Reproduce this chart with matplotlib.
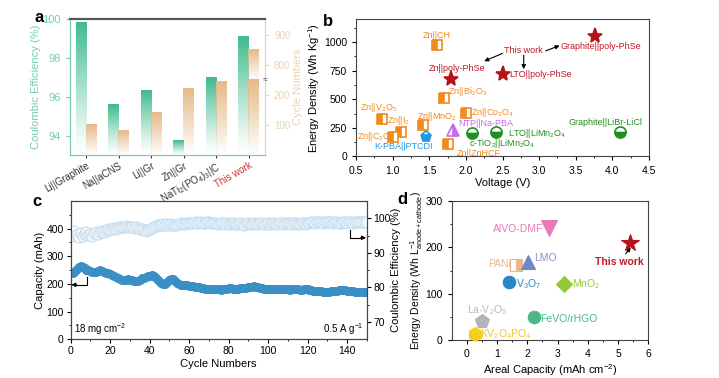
import numpy as np
import matplotlib
matplotlib.use("Agg")
import matplotlib.pyplot as plt
from matplotlib.colors import to_rgb
import matplotlib.transforms as mtransforms

plt.rcParams['font.family'] = ['Liberation Sans', 'DejaVu Sans']
plt.rcParams['mathtext.fontset'] = 'custom'
plt.rcParams['mathtext.rm'] = 'Liberation Sans'
plt.rcParams['mathtext.it'] = 'Liberation Sans:italic'
plt.rcParams['mathtext.bf'] = 'Liberation Sans:bold'
plt.rcParams['font.size'] = 7

# ---------------- data: panel a ----------------
a_categories = ["Li||Graphite", "Na||aCNS", "Li||Gr", "Zn||Gr",
                "NaTi$_2$(PO$_4$)$_3$||C", "This work"]
a_ce = [99.8, 95.6, 96.3, 93.75, 97.0, 99.1]
a_cycles = [100, 83, 143, 223, 245, 850]

# ---------------- data: panel b ----------------
b_names = ["Zn||CH", "Zn||poly-PhSe", "Zn||Bi$_2$O$_3$", "Zn||V$_2$O$_5$", "Zn||I$_2$",
           "Zn||MnO$_2$", "Zn||C$_2$O$_4$", "Zn||Co$_3$O$_4$", "K-PBA||PTCDI",
           "NTP||Na-PBA", "Zn||ZnHCF", "c-TiO$_2$||LiMn$_2$O$_4$", "LTO||LiMn$_2$O$_4$",
           "LTO||poly-PhSe", "Graphite||poly-PhSe", "Graphite||LiBr-LiCl"]
b_voltage = [1.61, 1.80, 1.70, 0.85, 1.11, 1.41, 1.00, 2.00, 1.45, 1.82, 1.76,
             2.09, 2.41, 2.50, 3.76, 4.11]
b_energy = [977, 675, 512, 329, 216, 272, 173, 376, 173, 231, 109, 207, 216,
            718, 1050, 211]

# ---------------- data: panel c ----------------
c_cycles = list(range(1, 151))
c_capacity = [238, 248, 255, 262, 265, 262, 256, 252, 250, 246,
              244, 243, 245, 247, 249, 248, 245, 241, 238, 235,
              231, 228, 225, 221, 218, 216, 214, 215, 217, 216,
              215, 212, 210, 212, 216, 220, 223, 226, 228, 230,
              231, 228, 222, 216, 208, 202, 199, 201, 206, 213,
              218, 219, 212, 204, 199, 197, 196, 197, 195, 193,
              192, 191, 190, 189, 188, 186, 184, 183, 182, 182,
              181, 182, 183, 182, 181, 180, 181, 182, 183, 184,
              184, 183, 182, 182, 183, 184, 185, 186, 187, 188,
              189, 190, 191, 190, 188, 186, 184, 183, 182, 182,
              181, 182, 183, 182, 181, 181, 182, 183, 182, 181,
              180, 181, 182, 182, 181, 180, 180, 181, 182, 181,
              179, 177, 175, 174, 174, 173, 173, 172, 172, 171,
              172, 173, 174, 175, 176, 177, 178, 178, 177, 176,
              175, 174, 173, 172, 171, 171, 170, 170, 170, 171]
c_ce = [96.2, 94.8, 95.3, 94.5, 95.8, 94.9, 95.6, 96.0, 95.2, 95.5,
        95.0, 95.8, 96.1, 95.4, 95.9, 96.3, 96.0, 96.5, 96.8, 96.6,
        97.0, 97.2, 96.9, 97.3, 97.5, 97.6, 97.4, 97.7, 97.5, 97.6,
        97.4, 97.2, 97.5, 97.3, 97.0, 96.8, 96.5, 96.4, 96.6, 96.9,
        97.2, 97.6, 97.9, 98.1, 98.2, 98.0, 98.3, 98.2, 98.4, 98.1,
        98.3, 98.2, 98.0, 98.2, 98.4, 98.5, 98.3, 98.4, 98.6, 98.5,
        98.7, 98.6, 98.8, 98.7, 98.9, 98.8, 98.6, 98.7, 98.9, 98.8,
        98.7, 98.5, 98.6, 98.4, 98.3, 98.5, 98.6, 98.4, 98.5, 98.3,
        98.4, 98.6, 98.5, 98.3, 98.4, 98.5, 98.3, 98.2, 98.4, 98.5,
        98.3, 98.4, 98.5, 98.3, 98.4, 98.6, 98.5, 98.4, 98.3, 98.5,
        98.4, 98.5, 98.6, 98.4, 98.3, 98.5, 98.6, 98.4, 98.5, 98.6,
        98.5, 98.4, 98.6, 98.5, 98.3, 98.4, 98.5, 98.6, 98.4, 98.5,
        98.7, 98.8, 98.9, 98.7, 98.8, 98.9, 98.8, 98.7, 98.9, 99.0,
        98.8, 98.9, 98.7, 98.8, 98.9, 98.7, 98.6, 98.8, 98.9, 98.7,
        98.8, 98.9, 98.7, 98.8, 98.9, 99.0, 98.8, 98.9, 99.0, 98.9]

# ---------------- data: panel d ----------------
d_names = ["AlVO-DMF", "This work", "PANi", "LMO", "V$_3$O$_7$", "MnO$_2$",
           "La-V$_2$O$_5$", "FeVO/rHGO", "KV$_2$O$_4$PO$_4$"]
d_capacity = [2.72, 5.39, 1.61, 2.03, 1.40, 3.22, 0.50, 2.22, 0.26]
d_energy = [242, 209, 162, 168, 126, 120, 41, 50, 12]

W, H = 719, 378
fig = plt.figure(figsize=(W / 100, H / 100), dpi=100)


def px_axes(l, t, r, b):
    return fig.add_axes([l / W, 1 - b / H, (r - l) / W, (b - t) / H])


def grad_bar(ax, x0, x1, y0, y1, color, power=0.9):
    n = 200
    rgb = to_rgb(color)
    img = np.ones((n, 1, 4))
    img[:, 0, 0:3] = rgb
    t = np.linspace(0, 1, n)
    img[:, 0, 3] = np.clip(t, 0, 1) ** power
    ax.imshow(img, extent=[x0, x1, y0, y1], origin='lower', aspect='auto',
              interpolation='bilinear', zorder=2)


# ================= panel a =================
green = '#3dbb8c'
green_txt = '#74cfaa'
tan = '#e6b987'
tan_txt = '#e9d3b4'
axA = px_axes(70, 19, 265, 155)
axA2 = axA.twinx()
xA = np.arange(len(a_categories))


def cyc_t(v):
    return v if v <= 250 else v - 500


for i in xA:
    grad_bar(axA, i - 0.33, i - 0.02, 93, a_ce[i], green, power=1.2)
    v = a_cycles[i]
    if v <= 250:
        grad_bar(axA2, i - 0.02, i + 0.31, 0, v, tan, power=1.0)
    else:
        grad_bar(axA2, i - 0.02, i + 0.31, 250, cyc_t(v), tan, power=1.0)
        grad_bar(axA2, i - 0.02, i + 0.31, 0, 250, tan, power=1.0)
axA.set_xlim(-0.5, len(a_categories) - 0.5)
axA.set_ylim(93, 100)
axA2.set_ylim(0, 453)
axA.set_yticks([94, 96, 98, 100])
axA2.set_yticks([100, 200, 300, 400])
axA2.set_yticklabels(['100', '200', '800', '900'])
axA.set_xticks(xA)
axA.set_xticklabels(a_categories, rotation=30, ha='right', rotation_mode='anchor',
                    fontsize=7)
for lbl in axA.get_xticklabels():
    lbl.set_color('#d0303a' if lbl.get_text() == 'This work' else '#333333')
axA.tick_params(axis='y', colors=green_txt, labelsize=8, length=3)
axA.tick_params(axis='x', length=2, color='#333333', pad=2)
axA2.tick_params(axis='y', colors=tan_txt, labelsize=7, length=3)
axA.set_ylabel('Coulombic Efficiency (%)', color=green_txt, fontsize=8, labelpad=1)
axA2.set_ylabel('Cycle Numbers', color=tan_txt, fontsize=8, labelpad=2)
for ax in (axA, axA2):
    ax.spines['left'].set_color(green_txt)
    ax.spines['bottom'].set_color(green_txt)
    ax.spines['right'].set_color(tan_txt)
    ax.spines['top'].set_color('#555555')
    ax.spines['top'].set_linewidth(1.5)
axA2.text(1.0, 250, '≈', transform=mtransforms.blended_transform_factory(
    axA2.transAxes, axA2.transData), ha='center', va='center', fontsize=6,
    color='#555555', clip_on=False)

# ================= panel b =================
axB = px_axes(356, 19, 649, 156.5)
orange = '#f28a1e'
red = '#b5121b'
redtxt = '#c0182a'
bgreen = '#1f8f1f'
blue = '#2196e3'
violet = '#cc66ee'
b_style = {
    "Zn||CH": ('s', orange, 'left'), "Zn||poly-PhSe": ('*', red, 'full'),
    "Zn||Bi$_2$O$_3$": ('s', orange, 'left'), "Zn||V$_2$O$_5$": ('s', orange, 'left'),
    "Zn||I$_2$": ('s', orange, 'left'), "Zn||MnO$_2$": ('s', orange, 'left'),
    "Zn||C$_2$O$_4$": ('s', orange, 'left'), "Zn||Co$_3$O$_4$": ('s', orange, 'left'),
    "K-PBA||PTCDI": ('p', blue, 'bottom'), "NTP||Na-PBA": ('^', violet, 'right'),
    "Zn||ZnHCF": ('s', orange, 'left'), "c-TiO$_2$||LiMn$_2$O$_4$": ('o', bgreen, 'bottom'),
    "LTO||LiMn$_2$O$_4$": ('o', bgreen, 'bottom'), "LTO||poly-PhSe": ('*', red, 'full'),
    "Graphite||poly-PhSe": ('*', red, 'full'), "Graphite||LiBr-LiCl": ('o', bgreen, 'bottom'),
}
for nm, v, e in zip(b_names, b_voltage, b_energy):
    mk, col, fs = b_style[nm]
    ms = 11 if mk == '*' else (8 if mk in 'po^' else 7)
    axB.plot([v], [e], marker=mk, color=col, markersize=ms, fillstyle=fs,
             markerfacecoloralt='white', markeredgewidth=1.2, zorder=4, linestyle='none')
b_labels = [
    ("Zn||CH", 1.605, 1058, 'center', orange),
    ("Zn||poly-PhSe", 1.88, 770, 'center', redtxt),
    ("Zn||Bi$_2$O$_3$", 1.76, 564, 'left', orange),
    ("Zn||V$_2$O$_5$", 0.81, 428, 'center', orange),
    ("Zn||I$_2$", 1.08, 312, 'center', orange),
    ("Zn||MnO$_2$", 1.605, 353, 'center', orange),
    ("Zn||C$_2$O$_4$", 1.03, 172, 'right', orange),
    ("Zn||Co$_3$O$_4$", 2.07, 380, 'left', orange),
    ("K-PBA||PTCDI", 1.15, 85, 'center', blue),
    ("NTP||Na-PBA", 1.90, 290, 'left', violet),
    ("Zn||ZnHCF", 1.87, 26, 'left', orange),
    ("c-TiO$_2$||LiMn$_2$O$_4$", 2.04, 110, 'left', bgreen),
    ("LTO||LiMn$_2$O$_4$", 2.57, 205, 'left', bgreen),
    ("LTO||poly-PhSe", 2.59, 718, 'left', redtxt),
    ("Graphite||poly-PhSe", 3.29, 962, 'left', redtxt),
    ("Graphite||LiBr-LiCl", 3.90, 300, 'center', bgreen),
    ("This work", 2.79, 928, 'center', redtxt),
]
for txt, x, y, ha, col in b_labels:
    axB.text(x, y, txt, ha=ha, va='center', color=col, fontsize=6.5, zorder=3)
for (x0, y0), (x1, y1) in [((2.50, 900), (2.25, 832)), ((3.09, 922), (3.28, 968)),
                           ((2.79, 884), (2.79, 762))]:
    axB.annotate('', xy=(x1, y1), xytext=(x0, y0),
                 arrowprops=dict(arrowstyle='-|>', color='black', lw=0.8,
                                 mutation_scale=6, shrinkA=0, shrinkB=0))
axB.set_xlim(0.5, 4.5)
axB.set_ylim(0, 1200)
axB.set_xticks(np.arange(0.5, 4.51, 0.5))
axB.set_xticks(np.arange(0.75, 4.5, 0.5), minor=True)
axB.set_yticks([0, 250, 500, 750, 1000])
axB.set_yticks([125, 375, 625, 875, 1125], minor=True)
axB.tick_params(labelsize=7.5, length=3, direction='out')
axB.tick_params(which='minor', length=1.5)
axB.set_xlabel('Voltage (V)', fontsize=8, labelpad=2)
axB.set_ylabel('Energy Density (Wh Kg$^{-1}$)', fontsize=8, labelpad=1)
for s in axB.spines.values():
    s.set_color('#444444')

# ================= panel c =================
axC = px_axes(70.7, 201, 366.7, 339.3)
axC2 = axC.twinx()
axC2.plot(c_cycles, c_ce, linestyle='none', marker='o', markersize=8,
          markerfacecolor='#f4f9fc', markeredgecolor='#c6def0', markeredgewidth=0.8)
axC.plot(c_cycles, c_capacity, linestyle='none', marker='o', markersize=6.5,
         color='#3a8fc4', markeredgewidth=0)
axC.set_xlim(0, 150)
axC.set_ylim(0, 500)
axC2.set_ylim(65, 105)
axC.set_xticks(np.arange(0, 141, 20))
axC.set_xticks(np.arange(10, 151, 20), minor=True)
axC.set_yticks([0, 100, 200, 300, 400])
axC.set_yticks([50, 150, 250, 350, 450], minor=True)
axC2.set_yticks([70, 80, 90, 100])
axC2.set_yticks([75, 85, 95], minor=True)
for ax in (axC, axC2):
    ax.tick_params(labelsize=7.5, length=3, direction='out', pad=2)
    ax.tick_params(which='minor', length=1.5)
    for s in ax.spines.values():
        s.set_color('#444444')
axC.set_xlabel('Cycle Numbers', fontsize=8, labelpad=2)
axC.set_ylabel('Capacity (mAh)', fontsize=8, labelpad=1)
axC2.set_ylabel('Coulombic Efficiency (%)', fontsize=8)
axC2.yaxis.set_label_coords(1.082, 0.5)
axC.text(0.01, 0.02, '18 mg cm$^{-2}$', transform=axC.transAxes, fontsize=7,
         ha='left', va='bottom')
axC.text(0.99, 0.02, '0.5 A g$^{-1}$', transform=axC.transAxes, fontsize=7,
         ha='right', va='bottom')
axC.plot([8.4, 8.4, 2.5], [225, 197, 197], color='black', lw=0.8)
axC.annotate('', xy=(0.3, 197), xytext=(3, 197),
             arrowprops=dict(arrowstyle='-|>', color='black', lw=0.8, mutation_scale=6,
                             shrinkA=0, shrinkB=0))
axC.plot([141.5, 141.5, 147], [396, 367, 367], color='black', lw=0.8)
axC.annotate('', xy=(149.7, 367), xytext=(147, 367),
             arrowprops=dict(arrowstyle='-|>', color='black', lw=0.8, mutation_scale=6,
                             shrinkA=0, shrinkB=0))

# ================= panel d =================
axD = px_axes(451.7, 201, 648.3, 340)
d_style = [
    ('v', '#e87ab4', 'full', 11, 'right', 2.53, 239, '#e87ab4'),
    ('*', red, 'full', 13, 'center', 5.05, 168, redtxt),
    ('s', '#e6b88a', 'right', 8, 'right', 1.47, 164, '#e0b890'),
    ('^', '#6f86c8', 'full', 10, 'left', 2.22, 178, '#8890d0'),
    ('o', '#2a88c6', 'full', 9, 'left', 1.61, 121, '#2a88c6'),
    ('D', '#96c83c', 'full', 8, 'left', 3.48, 120, '#96c83c'),
    ('p', '#b4b4b4', 'full', 10, 'center', 0.67, 65, '#b8b8b8'),
    ('o', '#4fb68c', 'full', 9, 'left', 2.42, 46, '#4fb68c'),
    ('h', '#f5cf1e', 'full', 10, 'left', 0.44, 13, '#f0c820'),
]
for nm, x, y, st in zip(d_names, d_capacity, d_energy, d_style):
    mk, col, fs, ms, ha, tx, ty, tc = st
    axD.plot([x], [y], marker=mk, color=col, markersize=ms, fillstyle=fs,
             markerfacecoloralt='white', linestyle='none', zorder=4,
             markeredgewidth=0.8, clip_on=False)
    axD.text(tx, ty, nm, ha=ha, va='center', color=tc, fontsize=7.5, zorder=3,
             fontweight='bold' if nm == 'This work' else 'normal')
axD.annotate('', xy=(5.42, 200), xytext=(5.25, 186),
             arrowprops=dict(arrowstyle='-|>', color='black', lw=0.8, mutation_scale=6,
                             shrinkA=0, shrinkB=0))
axD.set_xlim(-0.5, 6)
axD.set_ylim(0, 300)
axD.set_xticks(range(0, 7))
axD.set_xticks(np.arange(0.5, 6, 1), minor=True)
axD.set_yticks([0, 100, 200, 300])
axD.set_yticks([50, 150, 250], minor=True)
axD.tick_params(labelsize=7.5, length=3, direction='out')
axD.tick_params(which='minor', length=1.5)
for s in axD.spines.values():
    s.set_color('#444444')
axD.set_xlabel('Areal Capacity (mAh cm$^{-2}$)', fontsize=8, labelpad=2)
axD.set_ylabel('Energy Density (Wh L$_{\\mathrm{anode+cathode}}^{-1}$)', fontsize=7.5)
axD.yaxis.set_label_coords(-0.135, 0.5)

# panel letters
for letter, x, y in [('a', 39, 18), ('b', 328, 22), ('c', 37, 201), ('d', 402, 200)]:
    fig.text(x / W, 1 - y / H, letter, fontsize=12, fontweight='bold', ha='center',
             va='center')

fig.savefig('out.png', dpi=100)
